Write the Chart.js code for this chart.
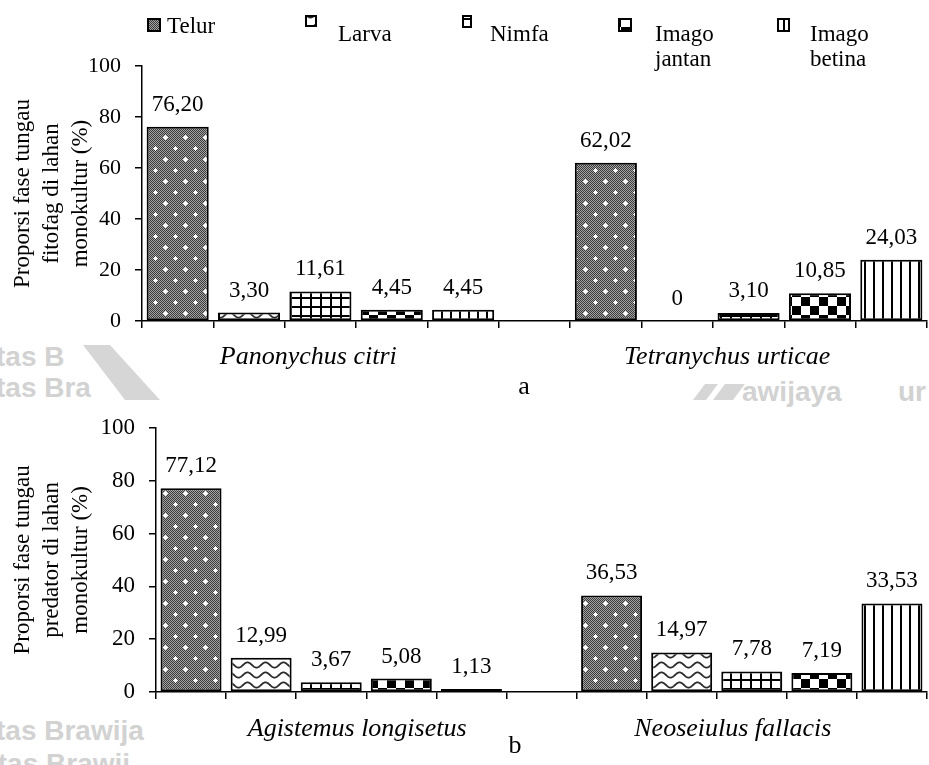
<!DOCTYPE html>
<html>
<head>
<meta charset="utf-8">
<title>Proporsi fase tungau di lahan monokultur</title>
<script src="https://cdn.jsdelivr.net/npm/chart.js@4.4.0/dist/chart.umd.min.js"></script>
<style>
  body { margin: 0; background: #fff; }
  #wrap { position: relative; width: 929px; height: 765px; overflow: hidden; }
  canvas { position: absolute; left: 0; }
  #chartA { top: 0; }
  #chartB { top: 400px; }
  .wm { position: absolute; font: bold 28px "Liberation Sans", Arial, sans-serif; color: #d2d2d2; white-space: nowrap; line-height: 32px; }
  .wm-shape { position: absolute; background: #d6d6d6; }
</style>
</head>
<body>
<div id="wrap">
  <div class="wm" style="left:-4px; top:341px">tas B</div>
  <div class="wm" style="left:-4px; top:372px">tas Bra</div>
  <div class="wm-shape" style="left:80px; top:345px; width:85px; height:55px; clip-path: polygon(3px 0, 30px 0, 80px 55px, 45px 55px);"></div>
  <div class="wm-shape" style="left:690px; top:384px; width:60px; height:16px; clip-path: polygon(15px 0, 28px 0, 16px 16px, 3px 16px);"></div>
  <div class="wm-shape" style="left:690px; top:384px; width:60px; height:16px; clip-path: polygon(35px 0, 55px 0, 43px 16px, 23px 16px);"></div>
  <div class="wm" style="left:742px; top:376px">awijaya</div>
  <div class="wm" style="left:898px; top:376px">ur</div>
  <div class="wm" style="left:-4px; top:715px">tas Brawija</div>
  <div class="wm" style="left:-10px; top:748px">itas Brawij</div>
  <canvas id="chartA" width="929" height="400"></canvas>
  <canvas id="chartB" width="929" height="365"></canvas>
</div>
<script>
// values (a = fitofag, b = predator)
const stages = ['Telur', 'Larva', 'Nimfa', 'Imago jantan', 'Imago betina'];
const fitofagSpecies = ['Panonychus citri', 'Tetranychus urticae'];
const panonychusCitri = [76.20, 3.30, 11.61, 4.45, 4.45];
const tetranychusUrticae = [62.02, 0, 3.10, 10.85, 24.03];
const predatorSpecies = ['Agistemus longisetus', 'Neoseiulus fallacis'];
const agistemusLongisetus = [77.12, 12.99, 3.67, 5.08, 1.13];
const neoseiulusFallacis = [36.53, 14.97, 7.78, 7.19, 33.53];
const yTicks = [0, 20, 40, 60, 80, 100];

Chart.defaults.font.family = '"Liberation Serif", "Times New Roman", serif';
Chart.defaults.color = '#000';

// 5 slots per species, one empty slot between the two species
function slotLabels(species) {
    return [...stages.map(s => species[0] + ' ' + s), '', ...stages.map(s => species[1] + ' ' + s)];
}

function stageData(first, second, i) {
    const d = new Array(stages.length * 2 + 1).fill(null);
    d[i] = first[i];
    d[stages.length + 1 + i] = second[i];
    return d;
}

function formatValue(v) {
    return v === 0 ? '0' : v.toFixed(2).replace('.', ',');
}

function makePattern(w, h, draw) {
    const c = document.createElement('canvas');
    c.width = w;
    c.height = h;
    const g = c.getContext('2d');
    g.fillStyle = '#fff';
    g.fillRect(0, 0, w, h);
    draw(g);
    return g.createPattern(c, 'repeat');
}

const patterns = [
    // Telur: fine grey checker with white stars
    makePattern(20, 22, g => {
        for (let y = 0; y < 22; y++) {
            for (let x = 0; x < 20; x++) {
                g.fillStyle = (x + y) % 2 ? '#a4a4a4' : '#3a3a3a';
                g.fillRect(x, y, 1, 1);
            }
        }
        g.fillStyle = '#fff';
        [[5, 5], [15, 16]].forEach(([cx, cy]) => {
            g.fillRect(cx - 2, cy, 5, 1);
            g.fillRect(cx, cy - 2, 1, 5);
            g.fillRect(cx - 1, cy - 1, 3, 3);
        });
    }),
    // Larva: waves
    makePattern(18, 10, g => {
        g.strokeStyle = '#2a2a2a';
        g.lineWidth = 1.8;
        g.beginPath();
        for (let x = -2; x <= 20; x += 0.5) {
            const y = 5 + 2.6 * Math.sin(2 * Math.PI * x / 18);
            if (x === -2) g.moveTo(x, y); else g.lineTo(x, y);
        }
        g.stroke();
    }),
    // Nimfa: grid
    makePattern(10, 9, g => {
        g.fillStyle = '#000';
        g.fillRect(0, 0, 2, 9);
        g.fillRect(0, 0, 10, 2);
    }),
    // Imago jantan: checkerboard
    makePattern(18, 18, g => {
        g.fillStyle = '#000';
        g.fillRect(0, 0, 9, 9);
        g.fillRect(9, 9, 9, 9);
    }),
    // Imago betina: vertical lines
    makePattern(9, 1, g => {
        g.fillStyle = '#000';
        g.fillRect(0, 0, 2, 1);
    })
];

const valueLabels = {
    id: 'valueLabels',
    afterDatasetsDraw(chart, args, opts) {
        const ctx = chart.ctx;
        ctx.save();
        ctx.font = opts.font;
        ctx.fillStyle = '#000';
        ctx.textAlign = 'center';
        ctx.textBaseline = 'alphabetic';
        chart.data.datasets.forEach((ds, i) => {
            chart.getDatasetMeta(i).data.forEach((bar, j) => {
                const v = ds.data[j];
                if (v === null) return;
                ctx.fillText(formatValue(v), bar.x, bar.y - opts.gap);
            });
        });
        ctx.restore();
    }
};

// species names under each group + panel letter
const groupLabels = {
    id: 'groupLabels',
    afterDraw(chart, args, opts) {
        const ctx = chart.ctx;
        const x = chart.scales.x;
        ctx.save();
        ctx.fillStyle = '#000';
        ctx.textAlign = 'center';
        ctx.textBaseline = 'alphabetic';
        ctx.font = 'italic 26px "Liberation Serif", "Times New Roman", serif';
        opts.groups.forEach(gr => {
            const px = x.left + (gr.at + 0.5) * (x.width / x.ticks.length);
            ctx.fillText(gr.text, px, opts.baseline);
        });
        ctx.font = '26px "Liberation Serif", "Times New Roman", serif';
        ctx.fillText(opts.letter.text, opts.letter.x, opts.letter.y);
        ctx.restore();
    }
};

const patternLegend = {
    id: 'patternLegend',
    afterDraw(chart, args, opts) {
        if (!opts.items) return;
        const ctx = chart.ctx;
        ctx.save();
        ctx.font = '23px "Liberation Serif", "Times New Roman", serif';
        ctx.textBaseline = 'alphabetic';
        ctx.textAlign = 'left';
        chart.data.datasets.forEach((ds, i) => {
            const it = opts.items[i];
            ctx.fillStyle = ds.backgroundColor;
            ctx.fillRect(it.box[0], it.box[1], it.box[2], it.box[3]);
            ctx.strokeStyle = '#000';
            ctx.lineWidth = 2;
            ctx.strokeRect(it.box[0] + 1, it.box[1] + 1, it.box[2] - 2, it.box[3] - 2);
            ctx.fillStyle = '#000';
            const lines = it.wrap ? ds.label.split(' ') : [ds.label];
            lines.forEach((t, k) => ctx.fillText(t, it.textX, it.textY + k * 25));
        });
        ctx.restore();
    }
};

function makeChart(id, species, first, second, cfg) {
    return new Chart(document.getElementById(id), {
        type: 'bar',
        data: {
            labels: slotLabels(species),
            datasets: stages.map((s, i) => ({
                label: s,
                data: stageData(first, second, i),
                backgroundColor: patterns[i],
                borderColor: '#000',
                borderWidth: 2,
                borderSkipped: false,
                grouped: false,
                barPercentage: 0.87,
                categoryPercentage: 1
            }))
        },
        options: {
            responsive: false,
            animation: false,
            events: [],
            layout: { padding: cfg.padding },
            plugins: {
                legend: { display: false },
                tooltip: { enabled: false },
                valueLabels: { font: '23px "Liberation Serif", "Times New Roman", serif', gap: 16 },
                groupLabels: cfg.groupLabels,
                patternLegend: cfg.legend || {}
            },
            scales: {
                x: {
                    offset: true,
                    ticks: { display: false },
                    grid: { drawOnChartArea: false, drawTicks: true, tickLength: 7, color: '#000', lineWidth: 1.5, offset: true },
                    border: { color: '#000', width: 1.5 }
                },
                y: {
                    min: 0,
                    max: 100,
                    afterBuildTicks: scale => { scale.ticks = yTicks.map(v => ({ value: v })); },
                    afterFit: scale => { scale.width = cfg.axisX; },
                    ticks: { color: '#000', font: { size: cfg.tickSize }, padding: 14 },
                    grid: { drawOnChartArea: false, drawTicks: true, tickLength: 7, color: '#000', lineWidth: 1.5 },
                    border: { color: '#000', width: 1.5 },
                    title: {
                        display: true,
                        text: cfg.title,
                        color: '#000',
                        font: { size: 23, lineHeight: '29px' },
                        padding: { top: 8, bottom: 0 }
                    }
                }
            }
        },
        plugins: [valueLabels, groupLabels, patternLegend]
    });
}

makeChart('chartA', fitofagSpecies, panonychusCitri, tetranychusUrticae, {
    padding: { left: 0, top: 66, right: 2, bottom: 72 },
    axisX: 142,
    tickSize: 22,
    title: ['Proporsi fase tungau', 'fitofag di lahan', 'monokultur (%)'],
    groupLabels: {
        groups: [{ text: fitofagSpecies[0], at: 1.83 }, { text: fitofagSpecies[1], at: 7.7 }],
        baseline: 364,
        letter: { text: 'a', x: 524, y: 394 }
    },
    legend: {
        items: [
            { box: [147, 18, 14, 14], textX: 167, textY: 33 },
            { box: [305, 15, 12, 12], textX: 338, textY: 41 },
            { box: [462, 15, 10, 13], textX: 490, textY: 41 },
            { box: [618, 18, 14, 14], textX: 655, textY: 41, wrap: true },
            { box: [777, 18, 13, 14], textX: 810, textY: 41, wrap: true }
        ]
    }
});

makeChart('chartB', predatorSpecies, agistemusLongisetus, neoseiulusFallacis, {
    padding: { left: 0, top: 24, right: 2, bottom: 66 },
    axisX: 156,
    tickSize: 23,
    title: ['Proporsi fase tungau', 'predator di lahan', 'monokultur (%)'],
    groupLabels: {
        groups: [{ text: predatorSpecies[0], at: 2.37 }, { text: predatorSpecies[1], at: 7.73 }],
        baseline: 336,
        letter: { text: 'b', x: 515, y: 353 }
    }
});
</script>
</body>
</html>
